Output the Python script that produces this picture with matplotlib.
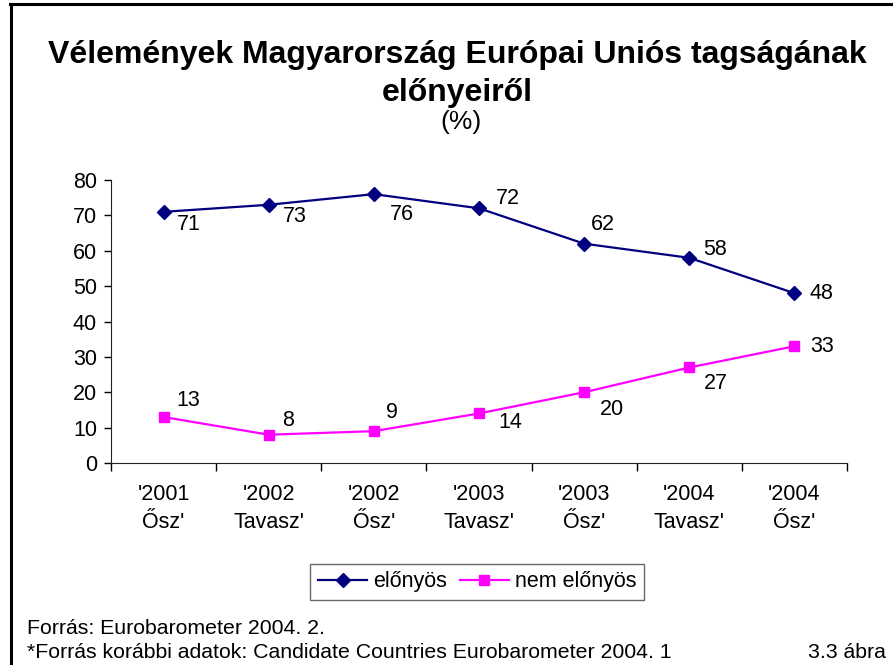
import matplotlib
matplotlib.use("Agg")
import matplotlib.pyplot as plt
from matplotlib.lines import Line2D
import numpy as np

plt.rcParams["font.family"] = ["Liberation Sans", "DejaVu Sans"]

# data
periods = ["'2001\nŐsz'", "'2002\nTavasz'", "'2002\nŐsz'", "'2003\nTavasz'",
           "'2003\nŐsz'", "'2004\nTavasz'", "'2004\nŐsz'"]
elonyos = [71, 73, 76, 72, 62, 58, 48]
nem_elonyos = [13, 8, 9, 14, 20, 27, 33]
y_ticks = [0, 10, 20, 30, 40, 50, 60, 70, 80]

# label offsets (pixels, relative to each marker), mimicking the original Excel placement
off_elonyos = [(25, -13), (26, -12), (28, -20), (29, 10), (19, 19), (26, 8), (27, 0)]
off_nem = [(25, 17), (19, 14), (18, 19), (31, -9), (28, -17), (27, -16), (28, 0)]

BLUE = "#000080"
MAGENTA = "#FF00FF"
FS = 15.5

fig = plt.figure(figsize=(8.93, 6.65), dpi=100)
ax = fig.add_axes([111 / 893, 1 - 463 / 665, (847 - 111) / 893, (463 - 180) / 665])

x = np.arange(len(periods))
ax.plot(x, elonyos, color=BLUE, lw=1.6, marker="D", ms=7.5, label="előnyös")
ax.plot(x, nem_elonyos, color=MAGENTA, lw=1.6, marker="s", ms=7.5, label="nem előnyös")

for xi, v, (dx, dy) in zip(x, elonyos, off_elonyos):
    ax.annotate(str(v), (xi, v), xytext=(dx, dy), textcoords="offset pixels",
                ha="center", va="center", fontsize=FS)
for xi, v, (dx, dy) in zip(x, nem_elonyos, off_nem):
    ax.annotate(str(v), (xi, v), xytext=(dx, dy), textcoords="offset pixels",
                ha="center", va="center", fontsize=FS)

ax.set_xlim(-0.5, len(periods) - 0.5)
ax.set_ylim(0, 80)
ax.set_yticks(y_ticks)
ax.tick_params(axis="y", labelsize=FS, length=5, width=1, pad=5)
ax.set_xticks(np.arange(len(periods) + 1) - 0.5)
ax.set_xticklabels([])
ax.set_xticks(x, minor=True)
ax.set_xticklabels(periods, minor=True, fontsize=FS, linespacing=1.45)
ax.tick_params(axis="x", which="major", length=6, width=1)
ax.tick_params(axis="x", which="minor", length=0, pad=15)
for side in ("top", "right"):
    ax.spines[side].set_visible(False)
for side in ("left", "bottom"):
    ax.spines[side].set_color("#222222")

title_x = 457 / 893
fig.text(title_x, 1 - 55 / 665, "Vélemények Magyarország Európai Uniós tagságának",
         ha="center", va="center", fontsize=23.0, fontweight="bold")
fig.text(title_x, 1 - 93 / 665, "előnyeiről", ha="center", va="center",
         fontsize=23.0, fontweight="bold")
fig.text(461 / 893, 1 - 122 / 665, "(%)", ha="center", va="center", fontsize=19)

fig.legend(loc="center", bbox_to_anchor=(477 / 893, 1 - 582 / 665), ncol=2,
           fontsize=FS, frameon=True, fancybox=False, edgecolor="#444444",
           handlelength=2.3, handletextpad=0.25, columnspacing=0.6,
           borderpad=0.35, markerscale=1.0)

FOOT = 15.3
fig.text(27 / 893, 1 - 629 / 665, "Forrás: Eurobarometer 2004. 2.",
         ha="left", va="center", fontsize=FOOT)
fig.text(27 / 893, 1 - 653 / 665,
         "*Forrás korábbi adatok: Candidate Countries Eurobarometer 2004. 1",
         ha="left", va="center", fontsize=FOOT)
fig.text(886 / 893, 1 - 653 / 665, "3.3 ábra", ha="right", va="center", fontsize=FOOT)

# outer frame (top and left edges visible in the crop)
fig.add_artist(Line2D([10 / 893, 1], [1 - 4 / 665] * 2, color="black", lw=2.2,
                      transform=fig.transFigure))
fig.add_artist(Line2D([11 / 893] * 2, [1 - 4 / 665, 0], color="black", lw=2.2,
                      transform=fig.transFigure))

fig.savefig("out.png", dpi=100)
